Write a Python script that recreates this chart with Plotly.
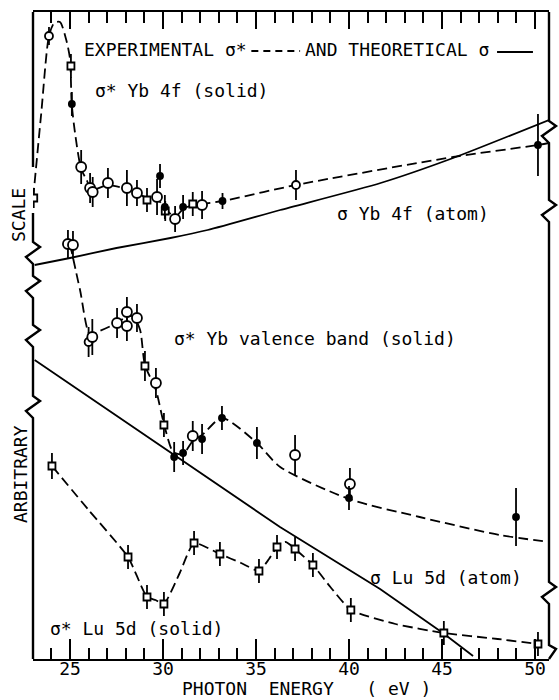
import plotly.graph_objects as go

# ---------------- data (photon energy in eV, cross sections in arbitrary units) ----------------
# sigma* Yb 4f (solid) - experimental points
yb4f_e = [23.05, 23.87, 25.05, 25.10, 25.60, 26.08, 26.22, 27.04, 28.06, 28.60, 29.14, 29.68,
          29.84, 30.10, 30.12, 30.65, 31.08, 31.60, 32.10, 33.20, 37.15, 50.16]
yb4f_y = [461, 623, 593, 555, 492, 471, 467, 476, 471, 466, 459, 462,
          483, 452, 448, 440, 452, 455, 454, 458, 474, 514]
yb4f_err = [10, 9, 12, 12, 17, 15, 15, 15, 18, 13, 12, 18,
            12, 12, 10, 13, 12, 12, 14, 8, 15, 31]
yb4f_kind = ['s', 'o', 's', 'f', 'O', 'O', 'O', 'O', 'O', 'O', 's', 'O',
             'f', 'f', 's', 'O', 'f', 's', 'O', 'f', 'o', 'f']
# hand-drawn experimental curve through the Yb 4f points
yb4f_fit_e = [23.02, 23.45, 23.87, 24.15, 24.46, 24.80, 25.00, 25.09, 25.27, 25.60, 25.90, 26.15,
              27.04, 28.06, 28.60, 29.14, 29.68, 30.10, 30.65, 31.08, 31.60, 32.10, 33.20, 37.15,
              45.60, 50.16, 50.75]
yb4f_fit_y = [461, 545, 623, 636, 637, 619, 600, 556, 526, 490, 479, 469,
              474, 470, 466, 461, 460, 451, 442, 450, 454, 455, 458, 474,
              502, 514, 516]
# sigma Yb 4f (atom) - theory
yb4f_th_e = [23.10, 25.00, 27.50, 30.40, 32.40, 36.30, 41.70, 45.60, 50.75]
yb4f_th_y = [394, 401, 411, 421, 429, 449, 476, 501, 539]

# sigma* Yb valence band (solid) - experimental points
ybvb_e = [24.89, 25.16, 26.00, 26.20, 27.53, 28.06, 28.06, 28.60, 29.03, 29.62, 30.05,
          30.60, 31.08, 31.60, 32.10, 33.17, 35.05, 37.10, 40.05, 40.00, 48.98]
ybvb_y = [415, 414, 317, 322, 336, 347, 333, 341, 293, 276, 234,
          202, 206, 223, 220, 241, 216, 204, 175, 161, 142]
ybvb_err = [14, 14, 15, 18, 15, 15, 15, 14, 15, 15, 12,
            15, 12, 15, 15, 12, 16, 20, 16, 12, 29]
ybvb_kind = ['O', 'O', 'o', 'O', 'O', 'O', 'O', 'O', 's', 'O', 's',
             'f', 'f', 'O', 'f', 'f', 'f', 'O', 'O', 'f', 'f']
ybvb_fit_e = [25.00, 25.54, 26.08, 26.60, 27.30, 28.06, 28.40, 28.77, 29.03, 29.62, 30.00,
              30.55, 31.08, 31.60, 32.10, 33.17, 35.05, 36.30, 40.00, 43.80, 48.10, 50.75]
ybvb_fit_y = [415, 369, 324, 328, 334, 342, 343, 329, 294, 269, 239,
              207, 205, 218, 224, 241, 216, 192, 160, 142, 124, 117]

# sigma Lu 5d (atom) - theory
lu_th_e = [23.10, 30.54, 36.29, 41.67, 45.05, 46.67]
lu_th_y = [299, 205, 132, 70, 26, 3]

# sigma* Lu 5d (solid) - experimental points
lu_e = [24.03, 28.12, 29.14, 30.05, 31.67, 33.06, 35.16, 36.13, 37.10, 38.06, 40.10, 45.10, 50.16]
lu_y = [193, 102, 62, 55, 116, 105, 88, 112, 110, 94, 49, 26, 15]
lu_err = [13, 12, 12, 12, 12, 12, 12, 12, 12, 12, 12, 12, 12]
lu_fit_e = [24.03, 26.00, 28.12, 29.14, 29.60, 30.05, 30.90, 31.67, 33.06, 34.20, 35.16, 35.70,
            36.13, 36.60, 37.10, 38.06, 39.00, 40.10, 42.50, 45.10, 48.00, 50.16]
lu_fit_y = [193, 149, 102, 62, 59, 55, 86, 116, 105, 96, 88, 100,
            112, 117, 110, 94, 72, 49, 35, 26, 20, 15]

x_major = [25, 30, 35, 40, 45, 50]
x_labels = ['25', '30', '35', '40', '45', '50']

# ---------------- figure ----------------
W, H = 559, 700
L, R, T, B = 33, 10, 12, 41
XR = [23.011, 50.753]
YR = [0, 647]
FONT = "DejaVu Sans Mono"
DASH = "10px,5px"

fig = go.Figure()

def curve(xs, ys, dash=None, smooth=0.8, shape='spline'):
    line = dict(color='black', width=1.8, dash=dash or 'solid', shape=shape)
    if shape == 'spline':
        line['smoothing'] = smooth
    fig.add_trace(go.Scatter(x=xs, y=ys, mode='lines', line=line,
                             hoverinfo='skip', showlegend=False))

SYM = {'O': ('circle', 10, 'white'), 'o': ('circle', 8, 'white'),
       's': ('square', 7, 'white'), 'f': ('circle', 6, 'black')}

def points(xs, ys, errs, kinds):
    for k in ['s', 'o', 'O', 'f']:
        idx = [i for i, kk in enumerate(kinds) if kk == k]
        if not idx:
            continue
        sym, size, fill = SYM[k]
        fig.add_trace(go.Scatter(
            x=[xs[i] for i in idx], y=[ys[i] for i in idx], mode='markers',
            marker=dict(symbol=sym, size=size, color=fill, line=dict(color='black', width=1.8)),
            error_y=dict(type='data', array=[errs[i] for i in idx], visible=True,
                         color='black', thickness=1.8, width=0),
            hoverinfo='skip', showlegend=False))

curve(yb4f_th_e, yb4f_th_y, smooth=0.6)
curve(lu_th_e, lu_th_y, shape='linear')
curve(yb4f_fit_e, yb4f_fit_y, DASH, 0.7)
curve(ybvb_fit_e, ybvb_fit_y, DASH, 0.7)
curve(lu_fit_e, lu_fit_y, DASH, 0.5)

points(yb4f_e, yb4f_y, yb4f_err, yb4f_kind)
points(ybvb_e, ybvb_y, ybvb_err, ybvb_kind)
points(lu_e, lu_y, lu_err, ['s'] * len(lu_e))

# invisible trace for the top axis
fig.add_trace(go.Scatter(x=[XR[0]], y=[0], xaxis='x2', mode='markers',
                         marker=dict(opacity=0), hoverinfo='skip', showlegend=False))

# ---------------- frame with axis breaks ----------------
pw, ph = W - L - R, H - T - B

def px(xp, yp):
    return (xp - L) / pw, (H - B - yp) / ph

def zig(x0, c, out):
    out += [(x0, c - 11), (x0 + 7, c - 6), (x0 - 7, c + 4), (x0, c + 11)]

def path(pts):
    s = ''
    for i, (a, b) in enumerate(pts):
        xx, yy = px(a, b)
        s += ('M' if i == 0 else 'L') + f'{xx:.5f},{yy:.5f} '
    return s

left_top = [(33, 12), (33, 167)]
left_bot = [(33, 213)]
for c in [253, 287, 336, 407]:
    zig(33, c, left_bot)
left_bot.append((33, 659))
right = [(549, 12)]
for c in [132, 211, 593]:
    zig(549, c, right)
right += [(549, 645), (556, 649), (549, 659)]

for pts in (left_top, left_bot, right):
    fig.add_shape(type='path', path=path(pts), xref='paper', yref='paper',
                  line=dict(color='black', width=2.4))

# legend samples in the header line
fig.add_shape(type='line', x0=34.75, x1=37.37, y0=608, y1=608, xref='x', yref='y',
              line=dict(color='black', width=1.8, dash='7px,5px'))
fig.add_shape(type='line', x0=47.96, x1=49.89, y0=607, y1=607, xref='x', yref='y',
              line=dict(color='black', width=1.8))

def label(text, x, y, **kw):
    fig.add_annotation(text=text, x=x, y=y, xref='x', yref='y', showarrow=False,
                       xanchor='left', yanchor='middle',
                       font=dict(family=FONT, size=18, color='black'), **kw)

label("EXPERIMENTAL σ*", 25.62, 610)
label("AND THEORETICAL σ", 37.53, 610)
label("σ* Yb 4f (solid)", 26.24, 569)
label("σ Yb 4f (atom)", 39.25, 446)
label("σ* Yb valence band (solid)", 30.48, 321)
label("σ Lu 5d (atom)", 41.02, 82)
label("σ* Lu 5d (solid)", 23.82, 31)

def plabel(text, x, y, angle=0):
    fig.add_annotation(text=text, x=x, y=y, xref='paper', yref='paper', showarrow=False,
                       xanchor='center', yanchor='middle', textangle=angle,
                       font=dict(family=FONT, size=18, color='black'))

NB = '\u00a0'
plabel(f"PHOTON{NB*2}ENERGY{NB*3}({NB}eV{NB})", (306 - L) / pw, (H - B - 688) / ph)
plabel("SCALE", (18 - L) / pw, (H - B - 215) / ph, -90)
plabel("ARBITRARY", (20 - L) / pw, (H - B - 474) / ph, -90)

axis_common = dict(range=XR, showgrid=False, zeroline=False,
                   tickcolor='black', tickwidth=2,
                   tickvals=x_major, ticks='inside',
                   showline=True, linecolor='black', linewidth=2.4)

fig.update_layout(
    width=W, height=H, autosize=False,
    margin=dict(l=L, r=R, t=T, b=B, pad=0),
    plot_bgcolor='white', paper_bgcolor='white',
    showlegend=False,
    xaxis=dict(**axis_common, ticklen=20, ticktext=x_labels, ticklabelstandoff=-8,
               tickfont=dict(family=FONT, size=18, color='black'),
               minor=dict(dtick=1, tick0=0, ticks='inside', ticklen=11,
                          tickcolor='black', tickwidth=2)),
    xaxis2=dict(**axis_common, overlaying='x', side='top', anchor='y', ticklen=17,
                showticklabels=False,
                minor=dict(dtick=1, tick0=0, ticks='inside', ticklen=11,
                           tickcolor='black', tickwidth=2)),
    yaxis=dict(range=YR, showgrid=False, zeroline=False, showticklabels=False,
               ticks='', showline=False),
)

fig.write_html("out.html")
